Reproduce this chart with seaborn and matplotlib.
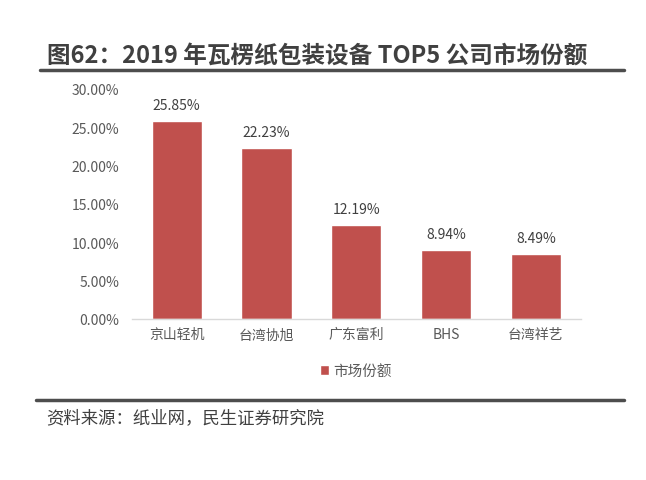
import matplotlib
matplotlib.use('Agg')
import matplotlib.pyplot as plt
import seaborn as sns
import pandas as pd
from matplotlib.lines import Line2D

# Data
companies = ['京山轻机', '台湾协旭', '广东富利', 'BHS', '台湾祥艺']
shares = [25.85, 22.23, 12.19, 8.94, 8.49]
series_name = '市场份额'

df = pd.DataFrame({'company': companies, 'share': shares})

sns.set_style('white')
plt.rcParams['font.family'] = ['Noto Sans CJK SC', 'DejaVu Sans']

bar_color = '#C0504D'
text_gray = '#595959'

fig = plt.figure(figsize=(6.46, 4.81), dpi=100)
ax = fig.add_axes([0.204, 0.335, 0.695, 0.478])

sns.barplot(data=df, x='company', y='share', color=bar_color, width=0.56,
            saturation=1, label=series_name, ax=ax)

ax.set_ylim(0, 30)
ax.set_yticks(range(0, 31, 5))
ax.set_yticklabels([f'{v:.2f}%' for v in range(0, 31, 5)], color=text_gray, fontsize=10)
ax.set_xlim(-0.5, len(companies) - 0.5)
ax.tick_params(axis='x', colors=text_gray, labelsize=10, length=0, pad=6)
ax.tick_params(axis='y', length=0, pad=9)
ax.set_xlabel('')
ax.set_ylabel('')
for s in ['top', 'right', 'left']:
    ax.spines[s].set_visible(False)
ax.spines['bottom'].set_color('#D9D9D9')
ax.spines['bottom'].set_linewidth(1)

for i, v in enumerate(shares):
    ax.text(i, v + 1.2, f'{v:.2f}%', ha='center', va='bottom', color='#404040', fontsize=10)

ax.legend(loc='upper center', bbox_to_anchor=(0.5, -0.14), frameon=False,
          handlelength=0.6, handleheight=0.6, handletextpad=0.3,
          prop={'size': 10.5}, labelcolor=text_gray)

# Title and rules
fig.text(0.072, 0.885, '图62：2019 年瓦楞纸包装设备 TOP5 公司市场份额', fontsize=17,
         fontweight='bold', color='#404040', va='center', ha='left')
fig.add_artist(Line2D([0.062, 0.966], [0.853, 0.853], color='#4D4D4D', lw=2.5))
fig.add_artist(Line2D([0.056, 0.966], [0.166, 0.166], color='#4D4D4D', lw=2.5))
fig.text(0.072, 0.131, '资料来源：纸业网，民生证券研究院', fontsize=12.5,
         color='#404040', va='center', ha='left')

fig.savefig('out.png', dpi=100)
